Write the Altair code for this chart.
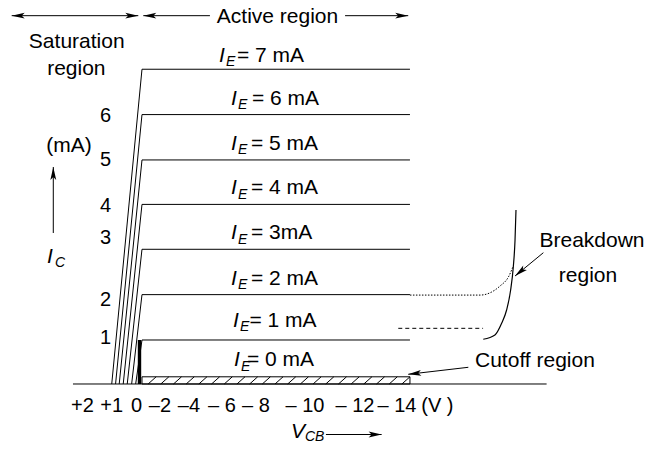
import math
import altair as alt
import pandas as pd

# ---------------- geometry of the plot area ----------------
W, H = 637, 434
X_DOM = [-26.28, 7.0]      # V_CB (volts), drawn reversed: positive to the left
Y_DOM = [-1.292, 8.374]    # I_C (mA)
PXV = W / (X_DOM[1] - X_DOM[0])   # pixels per volt
PXI = H / (Y_DOM[1] - Y_DOM[0])   # pixels per mA
FONT = "Liberation Sans"

# ---------------- values ----------------
ie_ma = [0, 1, 2, 3, 4, 5, 6, 7]
ic_ma = [0.16, 0.98, 1.99, 3.0, 4.0, 4.99, 6.0, 7.01]
v_active_end = -14.0
sat_v = [0.33, 0.54, 0.77, 0.98, 1.19, 1.38, 1.58]   # V_CB where saturation line of IE=1..7 reaches IC=0
bar_v = 0.13                                           # heavy line at V_CB ~ 0 (IE = 1)

bd_v = [-17.83, -18.44, -18.79, -19.05, -19.26, -19.40, -19.49, -19.54]
bd_i = [0.996, 1.091, 1.352, 1.648, 2.094, 2.612, 3.207, 3.875]

dot_v = [-14.0, -17.66, -18.18, -18.70, -19.14, -19.40]
dot_i = [1.98, 1.98, 2.03, 2.18, 2.38, 2.63]

dash_v = [-13.39, -17.82]
dash_i = [1.24, 1.24]

axis_v = [3.605, -21.14]

y_tick_text = ["1", "2", "3", "4", "5", "6"]
y_tick_i = [0.891, 1.737, 3.118, 3.831, 4.855, 5.824]
y_tick_v = 1.907

x_tick_text = ["+2", "+1", "0", "\u20132", "\u20134", "\u2013 6", "\u2013 8",
               "\u2013 10", "\u2013 12", "\u2013 14", "(V )"]
x_tick_v = [3.109, 1.583, 0.277, -0.940, -2.456, -4.180, -5.956, -8.516, -11.13, -13.32, -15.43]
x_tick_i = -0.617

ie_text = ["= 0 mA", "= 1 mA", "= 2 mA", "= 3mA", "= 4 mA", "= 5 mA", "= 6 mA", "= 7 mA"]
ie_label_v = [-4.807, -4.754, -4.650, -4.650, -4.650, -4.650, -4.650, -4.023]
ie_label_gap_px = [10.7, 13, 10, 10, 10, 10, 9.7, 7.6]
ie_eq_off_px = [13, 16.5, 20, 20, 20, 20, 21, 18]

# arrows: (tail_v, tail_i, tip_v, tip_i, head at tail?, head at tip?)
arrows = [
    (4.634, 3.363, 4.634, 4.833, False, True),       # I_C arrow
    (6.808, 8.203, 0.193, 8.203, True, True),        # saturation region
    (-3.55, 8.203, -0.068, 8.203, False, True),      # active region (left part)
    (-10.61, 8.203, -13.91, 8.203, False, True),     # active region (right part)
    (-9.61, -1.125, -12.52, -1.125, False, True),    # V_CB arrow
    (-20.97, 2.924, -19.49, 2.405, False, True),     # breakdown
    (-17.05, 0.372, -13.91, 0.216, False, True),     # cutoff
]

# ---------------- tables ----------------
segs = []
for ic in ic_ma[1:]:
    segs.append(dict(v=0.0, i=ic, v2=v_active_end, i2=ic))
for ic, sv in zip(ic_ma[1:], sat_v):
    segs.append(dict(v=0.0, i=ic, v2=sv, i2=0.0))
segs.append(dict(v=axis_v[0], i=0.0, v2=axis_v[1], i2=0.0))
for k in range(21):
    vb = -0.32 - 0.663 * k
    segs.append(dict(v=vb, i=0.0, v2=vb - 0.42, i2=ic_ma[0]))
for tv, ti, hv, hi, _, _ in arrows:
    segs.append(dict(v=tv, i=ti, v2=hv, i2=hi))
segs_df = pd.DataFrame(segs)


def head_angle(tip_v, tip_i, from_v, from_i):
    dx = -(tip_v - from_v) * PXV
    dy = -(tip_i - from_i) * PXI
    return math.degrees(math.atan2(dx, -dy)) % 360


heads = []
for tv, ti, hv, hi, at_tail, at_tip in arrows:
    if at_tip:
        heads.append(dict(v=hv, i=hi, ang=head_angle(hv, hi, tv, ti)))
    if at_tail:
        heads.append(dict(v=tv, i=ti, ang=head_angle(tv, ti, hv, hi)))
heads_df = pd.DataFrame(heads)

cut_df = pd.DataFrame([dict(v=0.0, i=0.0, v2=v_active_end, i2=ic_ma[0])])
bar_df = pd.DataFrame([dict(v=bar_v, i=0.0, v2=bar_v, i2=ic_ma[1])])
bd_df = pd.DataFrame(dict(v=bd_v, i=bd_i, k=range(len(bd_v))))
dot_df = pd.DataFrame(dict(v=dot_v, i=dot_i, k=range(len(dot_v))))
dash_df = pd.DataFrame(dict(v=dash_v, i=dash_i, k=range(2)))

center_txt = [
    dict(v=3.41, i=7.477, t="Saturation", fs=21),
    dict(v=3.43, i=6.882, t="region", fs=21),
    dict(v=-7.08, i=8.029, t="Active region", fs=21),
    dict(v=3.81, i=5.174, t="(mA)", fs=21),
    dict(v=-23.51, i=3.058, t="Breakdown", fs=21),
    dict(v=-23.30, i=2.278, t="region", fs=21),
    dict(v=-20.53, i=0.372, t="Cutoff region", fs=21),
]
for t, yi in zip(y_tick_text, y_tick_i):
    center_txt.append(dict(v=y_tick_v, i=yi, t=t, fs=20))
for t, xv in zip(x_tick_text, x_tick_v):
    center_txt.append(dict(v=xv, i=x_tick_i, t=t, fs=20))
center_df = pd.DataFrame(center_txt)

italic_txt = [
    dict(v=4.963, i=2.688, t="I", fs=21),
    dict(v=4.545, i=2.599, t="C", fs=14),
    dict(v=-7.785, i=-1.203, t="V", fs=21),
    dict(v=-8.516, i=-1.270, t="CB", fs=14),
]
left_txt = []
for ic, txt, lv, gap, off in zip(ic_ma, ie_text, ie_label_v, ie_label_gap_px, ie_eq_off_px):
    li = ic + gap / PXI
    italic_txt.append(dict(v=lv, i=li, t="I", fs=21))
    italic_txt.append(dict(v=lv - 7 / PXV, i=li - 4.5 / PXI, t="E", fs=14))
    left_txt.append(dict(v=lv - off / PXV, i=li, t=txt, fs=21))
italic_df = pd.DataFrame(italic_txt)
left_df = pd.DataFrame(left_txt)

# ---------------- encodings ----------------
xs = alt.Scale(domain=X_DOM, reverse=True, nice=False, zero=False)
ys = alt.Scale(domain=Y_DOM, nice=False, zero=False)
X = alt.X("v:Q", scale=xs, axis=None)
Y = alt.Y("i:Q", scale=ys, axis=None)
X2 = alt.X2("v2:Q")
Y2 = alt.Y2("i2:Q")

seg_layer = alt.Chart(segs_df).mark_rule(color="black", strokeWidth=1).encode(x=X, y=Y, x2=X2, y2=Y2)
cut_layer = alt.Chart(cut_df).mark_rect(fillOpacity=0, stroke="black", strokeWidth=1).encode(x=X, y=Y, x2=X2, y2=Y2)
bar_layer = alt.Chart(bar_df).mark_rule(color="black", strokeWidth=3.4).encode(x=X, y=Y, x2=X2, y2=Y2)
bd_layer = alt.Chart(bd_df).mark_line(color="black", strokeWidth=1.2, interpolate="monotone").encode(
    x=X, y=Y, order=alt.Order("k:Q"))
dot_layer = alt.Chart(dot_df).mark_line(color="black", strokeWidth=1, strokeDash=[1.5, 1.5],
                                        interpolate="monotone").encode(x=X, y=Y, order=alt.Order("k:Q"))
dash_layer = alt.Chart(dash_df).mark_line(color="black", strokeWidth=1, strokeDash=[4, 3]).encode(
    x=X, y=Y, order=alt.Order("k:Q"))
head_layer = alt.Chart(heads_df).mark_point(
    shape="M0,0L0.45,2L0,1.55L-0.45,2Z", filled=True, color="black", opacity=1, size=169, strokeWidth=0
).encode(x=X, y=Y, angle=alt.Angle("ang:Q", scale=None))

center_layer = alt.Chart(center_df).mark_text(font=FONT, align="center", baseline="alphabetic", color="black").encode(
    x=X, y=Y, text="t:N", size=alt.Size("fs:Q", scale=None))
italic_layer = alt.Chart(italic_df).mark_text(font=FONT, fontStyle="italic", align="left", baseline="alphabetic",
                                              color="black").encode(
    x=X, y=Y, text="t:N", size=alt.Size("fs:Q", scale=None))
left_layer = alt.Chart(left_df).mark_text(font=FONT, align="left", baseline="alphabetic", color="black").encode(
    x=X, y=Y, text="t:N", size=alt.Size("fs:Q", scale=None))

chart = alt.layer(
    cut_layer, seg_layer, bar_layer, bd_layer, dot_layer, dash_layer, head_layer,
    center_layer, italic_layer, left_layer
).properties(
    width=W, height=H, padding=0, autosize=alt.AutoSizeParams(type="none"), background="white"
).configure_view(strokeWidth=0)

chart.save("out.html", embed_options={"renderer": "svg", "actions": False})
